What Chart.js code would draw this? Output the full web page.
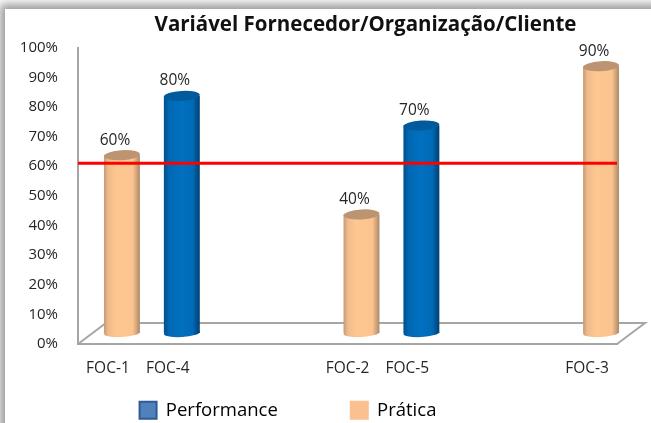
<!DOCTYPE html>
<html>
<head>
<meta charset="utf-8">
<script src="https://cdn.jsdelivr.net/npm/chart.js@4"></script>
<style>
    html, body { margin: 0; padding: 0; width: 651px; height: 423px; overflow: hidden; background: #fff; }
    #panel { position: absolute; left: 5px; top: 9px; width: 660px; height: 430px; background: #fff; box-shadow: 0 0 9px 5px #9a9a9a; }
    #wrap { position: absolute; left: 0; top: 0; width: 651px; height: 423px; }
</style>
</head>
<body>
<div id="panel"></div>
<div id="wrap"><canvas id="myChart" width="651" height="423"></canvas></div>
<script>
const categories = ['FOC-1', 'FOC-4', '', '', 'FOC-2', 'FOC-5', '', '', 'FOC-3'];
const performance_ = [null, 80, null, null, null, 70, null, null, null];
const pratica = [60, null, null, null, 40, null, null, null, 90];
const meta = [61, 61];
const yTicks = [0, 10, 20, 30, 40, 50, 60, 70, 80, 90, 100];

// profundidade do "3D" do Excel
const depthX = 28, depthY = 21;
const barX = 14, barY = -11;

const blueStops = [[0, '#004f8c'], [0.15, '#0068b4'], [0.5, '#0070c0'], [0.8, '#006ab6'], [1, '#003f72']];
const peachStops = [[0, '#c59a75'], [0.12, '#f0bb8b'], [0.35, '#fdc792'], [0.8, '#fbc48f'], [1, '#ad8867']];

function cylinderFill(stops) {
    return function (context) {
        const chart = context.chart;
        if (!chart.chartArea) return stops[2][1];
        const cx = chart.scales.x.getPixelForValue(context.dataIndex);
        const g = chart.ctx.createLinearGradient(cx - 18, 0, cx + 18, 0);
        stops.forEach(function (s) { g.addColorStop(s[0], s[1]); });
        return g;
    };
}

const cylinderPlugin = {
    id: 'cylinder',
    beforeDatasetDraw: function (chart, args) {
        if (args.meta.type !== 'bar') return;
        chart.ctx.save();
        chart.ctx.translate(barX, barY);
    },
    afterDatasetDraw: function (chart, args) {
        if (args.meta.type !== 'bar') return;
        const ctx = chart.ctx;
        const ds = chart.data.datasets[args.index];
        args.meta.data.forEach(function (bar, i) {
            if (ds.data[i] === null) return;
            const w = bar.width / 2;
            ctx.fillStyle = bar.options.backgroundColor;
            ctx.beginPath();
            ctx.ellipse(bar.x, bar.base, w, 4, -0.06, 0, Math.PI * 2);
            ctx.fill();
            ctx.fillStyle = ds.capColor;
            ctx.beginPath();
            ctx.ellipse(bar.x, bar.y, w, 5, -0.06, 0, Math.PI * 2);
            ctx.fill();
            ctx.fillStyle = '#262626';
            ctx.font = '15.5px "Open Sans"';
            ctx.textAlign = 'center';
            ctx.textBaseline = 'middle';
            ctx.fillText(ds.data[i] + '%', bar.x - 7, bar.y - 15);
        });
        ctx.restore();
    }
};

const floorPlugin = {
    id: 'floor',
    beforeDatasetsDraw: function (chart) {
        const ctx = chart.ctx;
        const a = chart.chartArea;
        ctx.save();
        ctx.strokeStyle = '#a6a6a6';
        ctx.lineWidth = 2;
        ctx.beginPath();
        ctx.moveTo(a.left, a.bottom);
        ctx.lineTo(a.left + depthX, a.bottom - depthY);
        ctx.lineTo(a.right + depthX, a.bottom - depthY);
        ctx.lineTo(a.right, a.bottom);
        ctx.stroke();
        ctx.restore();
    }
};

// legenda e titulo nao ficam centrados no canvas, entao ajusto aqui
const placeBlocks = {
    id: 'placeBlocks',
    beforeLayout: function (chart) {
        const legend = chart.legend;
        if (!legend.fitOriginal) {
            legend.fitOriginal = legend.fit;
            legend.fit = function () {
                this.fitOriginal();
                this.height = 41;
            };
        }
    },
    afterLayout: function (chart) {
        chart.legend.left -= 20.5;
        chart.legend.right -= 20.5;
        chart.legend.top = 328;
        chart.titleBlock.left += 57;
        chart.titleBlock.right += 57;
    }
};

new Chart(document.getElementById('myChart'), {
    data: {
        labels: categories,
        datasets: [
            {
                type: 'line',
                label: 'Meta',
                data: [{ x: 0, y: meta[0] }, { x: 1, y: meta[1] }],
                xAxisID: 'x2',
                borderColor: '#ff0000',
                borderWidth: 3,
                pointRadius: 0,
                order: 0
            },
            {
                type: 'bar',
                label: 'Performance',
                data: performance_,
                backgroundColor: cylinderFill(blueStops),
                capColor: '#005a9c',
                clip: false,
                order: 1
            },
            {
                type: 'bar',
                label: 'Prática',
                data: pratica,
                backgroundColor: cylinderFill(peachStops),
                capColor: '#bd9471',
                clip: false,
                order: 2
            }
        ]
    },
    options: {
        responsive: false,
        animation: false,
        layout: { padding: { left: 0, right: 34, top: 13, bottom: 0 } },
        datasets: { bar: { grouped: false, barPercentage: 0.6, categoryPercentage: 1 } },
        scales: {
            x: {
                grid: { display: false },
                border: { color: '#a6a6a6', width: 2 },
                ticks: { autoSkip: false, maxRotation: 0, color: '#262626', font: { family: '"Open Sans"', size: 15.5 }, padding: 7 },
                afterFit: function (s) { s.height = 38; }
            },
            x2: { type: 'linear', min: 0, max: 1, display: false },
            y: {
                min: 0,
                max: 100,
                afterBuildTicks: function (s) { s.ticks = yTicks.map(function (v) { return { value: v }; }); },
                grid: { display: false },
                border: { color: '#a6a6a6', width: 2 },
                ticks: {
                    color: '#262626',
                    font: { family: '"Open Sans"', size: 15 },
                    padding: 12,
                    callback: function (v) { return v + '%'; }
                },
                afterFit: function (s) { s.width = 78; }
            }
        },
        plugins: {
            title: {
                display: true,
                text: 'Variável Fornecedor/Organização/Cliente',
                color: '#111',
                font: { family: '"Open Sans"', size: 20.5, weight: 'bold' },
                padding: { top: 0, bottom: 10 }
            },
            legend: {
                position: 'bottom',
                labels: {
                    boxWidth: 17,
                    boxHeight: 17,
                    padding: 73,
                    color: '#262626',
                    font: { family: '"Open Sans"', size: 18.5 },
                    generateLabels: function () {
                        return [
                            { text: 'Performance', fillStyle: '#4f81bd', strokeStyle: '#2f5a92', lineWidth: 2, datasetIndex: 1 },
                            { text: 'Prática', fillStyle: '#fac090', strokeStyle: '#fac090', lineWidth: 2, datasetIndex: 2 }
                        ];
                    }
                }
            },
            tooltip: { enabled: false }
        }
    },
    plugins: [cylinderPlugin, floorPlugin, placeBlocks]
});
</script>
</body>
</html>
